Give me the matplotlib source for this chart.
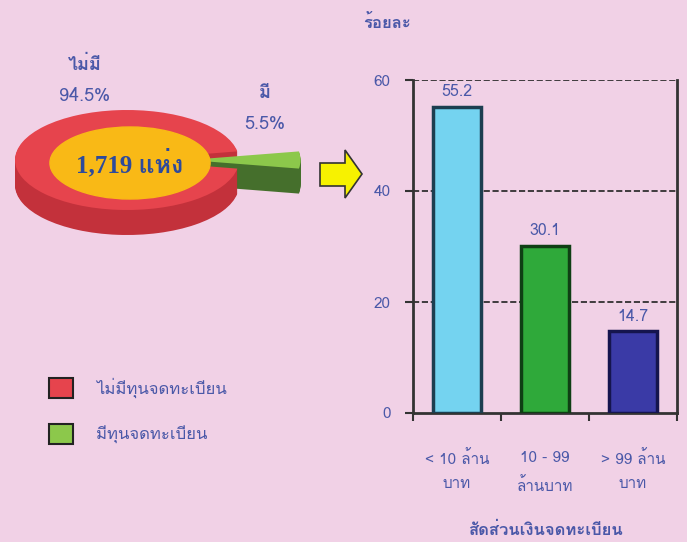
import numpy as np
import matplotlib
matplotlib.use('Agg')
import matplotlib.pyplot as plt
import matplotlib.patches as mpatches
from matplotlib import font_manager
from matplotlib.ft2font import FT2Font

# data
pie_labels = ['ไม่มี', 'มี']
pie_shares = [94.5, 5.5]
legend_labels = ['ไม่มีทุนจดทะเบียน', 'มีทุนจดทะเบียน']
total_text = '1,719 แห่ง'
bar_cats = ['< 10 ล้าน\nบาท', '10 - 99\nล้านบาท', '> 99 ล้าน\nบาท']
bar_vals = [55.2, 30.1, 14.7]
yticks = [0, 20, 40, 60]

# find a family with thai glyphs
thai = None
for f in font_manager.fontManager.ttflist:
    try:
        if 0x0E21 in FT2Font(f.fname).get_charmap():
            thai = f.name
            break
    except Exception:
        pass
fams = [thai, 'DejaVu Sans'] if thai else ['DejaVu Sans']
plt.rcParams['font.family'] = fams

bg = '#f1d1e6'
txt = '#4a58a8'
W, H = 687, 542

fig = plt.figure(figsize=(W / 100, H / 100), dpi=100, facecolor=bg)

def fx(px):
    return px / W

def fy(py):
    return 1 - py / H

# ---- pie (fake 3d) ----
axp = fig.add_axes([0, fy(260), fx(330), (260 - 60) / H])
axp.set_facecolor('none')
top_cols = ['#e6444d', '#8cc84b']
side_cols = ['#c3313b', '#456f2c']
expl = [0, 0.55]
start = -pie_shares[1] / 100 * 360 / 2
order = [pie_shares[1], pie_shares[0]]
for k, c in enumerate(np.linspace(-0.5, -0.02, 25)):
    axp.pie(order, startangle=start, center=(0, c), radius=1,
            explode=[expl[1], expl[0]], colors=[side_cols[1], side_cols[0]],
            wedgeprops=dict(linewidth=0), normalize=True)
wedges, _ = axp.pie(order, startangle=start, center=(0, 0), radius=1,
                    explode=[expl[1], expl[0]], colors=[top_cols[1], top_cols[0]],
                    wedgeprops=dict(linewidth=0), normalize=True)
axp.set_aspect('auto')
axp.set_xlim(-127 / 112, (330 - 127) / 112)
axp.set_ylim(-2.0, 2.0)
axp.axis('off')
axp.add_patch(mpatches.Ellipse((0.027, -0.06), 1.43, 1.44, color='#f9b916', zorder=5))
axp.text(0.027, -0.06, total_text, ha='center', va='center', fontsize=18,
         fontweight='bold', color='#2d4a9c', zorder=6,
         family=['Liberation Serif'] + fams)

fig.text(fx(85), fy(65), pie_labels[0], ha='center', va='center', fontsize=13,
         fontweight='bold', color=txt)
fig.text(fx(85), fy(96), f'{pie_shares[0]}%', ha='center', va='center', fontsize=13, color=txt)
fig.text(fx(265), fy(93), pie_labels[1], ha='center', va='center', fontsize=13,
         fontweight='bold', color=txt)
fig.text(fx(265), fy(124), f'{pie_shares[1]}%', ha='center', va='center', fontsize=13, color=txt)

# legend
handles = [mpatches.Patch(facecolor=top_cols[i], edgecolor='#222222', linewidth=1.5,
                          label=legend_labels[i]) for i in range(2)]
fig.legend(handles=handles, loc='upper left', bbox_to_anchor=(fx(41), fy(369)),
           frameon=False, fontsize=12, handlelength=1.4, handleheight=1.4,
           handletextpad=1.4, labelspacing=1.6, borderpad=0, labelcolor=txt)

# arrow
pts = np.array([[320, 163], [345, 163], [345, 150], [362, 174],
                [345, 198], [345, 186], [320, 186]], dtype=float)
arrow = mpatches.Polygon(np.c_[pts[:, 0] / W, 1 - pts[:, 1] / H], closed=True,
                         facecolor='#f7f200', edgecolor='#333333', linewidth=1.2,
                         transform=fig.transFigure)
fig.add_artist(arrow)

# ---- bars ----
ax = fig.add_axes([fx(413), fy(413), fx(677 - 413), (413 - 80) / H])
ax.set_facecolor(bg)
x = np.arange(len(bar_vals))
bar_cols = ['#74d3f0', '#2fa93a', '#3a3aa6']
edge_cols = ['#1c3e50', '#0f3f14', '#15154e']
ax.bar(x, bar_vals, width=0.55, color=bar_cols, edgecolor=edge_cols, linewidth=2.5, zorder=3)
for xi, v in zip(x, bar_vals):
    ax.text(xi, v + 1.2, f'{v}', ha='center', va='bottom', fontsize=11.5, color=txt)
ax.set_xlim(-0.5, len(bar_vals) - 0.5)
ax.set_ylim(0, 60)
ax.set_yticks(yticks)
ax.set_yticklabels([str(t) for t in yticks], color=txt, fontsize=11)
ax.set_xticks(np.arange(len(bar_vals) + 1) - 0.5)
ax.set_xticklabels([])
ax.set_xticks(x, minor=True)
ax.set_xticklabels(bar_cats, minor=True, color=txt, fontsize=11, linespacing=1.9)
ax.tick_params(axis='x', which='minor', length=0, pad=27)
ax.tick_params(axis='x', which='major', length=6, width=1.5, color='#333333')
ax.tick_params(axis='y', length=6, width=1.5, color='#333333', pad=10)
for t in [20, 40, 60]:
    ax.axhline(t, color='#222222', linestyle='--', linewidth=1.2, zorder=1)
ax.spines['top'].set_visible(False)
for s in ['left', 'bottom', 'right']:
    ax.spines[s].set_linewidth(2)
    ax.spines[s].set_color('#333333')

fig.text(fx(387), fy(22), 'ร้อยละ', ha='center', va='center', fontsize=12,
         fontweight='bold', color=txt)
fig.text(fx(545), fy(530), 'สัดส่วนเงินจดทะเบียน', ha='center', va='center', fontsize=12,
         fontweight='bold', color=txt)

fig.savefig('out.png', dpi=100, facecolor=bg)
